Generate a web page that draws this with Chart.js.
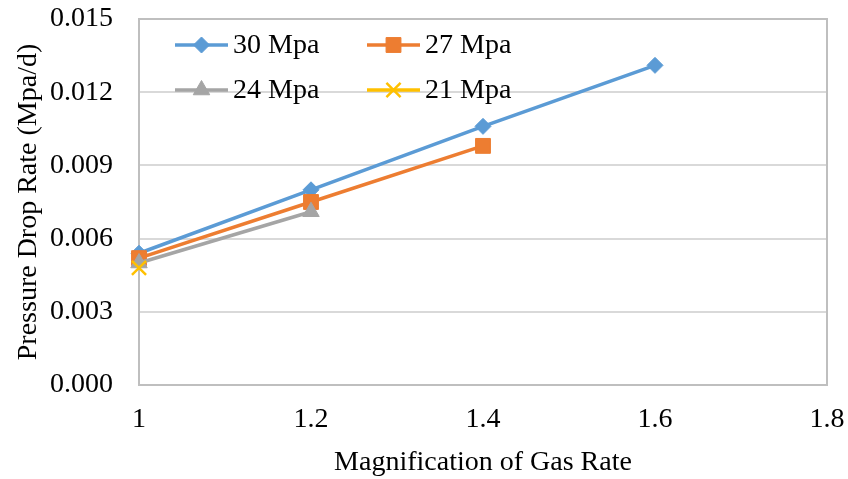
<!DOCTYPE html>
<html>
<head>
<meta charset="utf-8">
<script src="https://cdn.jsdelivr.net/npm/chart.js@4/dist/chart.umd.min.js"></script>
<style>
  html, body { margin: 0; padding: 0; background: #fff; }
  #wrap { width: 848px; height: 479px; }
</style>
</head>
<body>
<div id="wrap"><canvas id="myChart" width="848" height="479"></canvas></div>
<script>
const gasRate = [1, 1.2, 1.4, 1.6];
const p30 = [0.0054, 0.0080, 0.0106, 0.0131];
const p27 = [0.0052, 0.0075, 0.0098];
const p24 = [0.0050, 0.0071];
const p21 = [0.0048];
const seriesNames = ["30 Mpa", "27 Mpa", "24 Mpa", "21 Mpa"];
const xTicks = [1, 1.2, 1.4, 1.6, 1.8];
const yTicks = [0, 0.003, 0.006, 0.009, 0.012, 0.015];

const font = "'Liberation Serif', 'Times New Roman', serif";

function toPoints(vals) {
  return vals.map((v, i) => ({ x: gasRate[i], y: v }));
}

const styles = [
  { color: "#5B9BD5", pointStyle: "rectRot", radius: 8 },
  { color: "#ED7D31", pointStyle: "rect", radius: 10.5 },
  { color: "#A5A5A5", pointStyle: "triangle", radius: 9.5 },
  { color: "#FFC000", pointStyle: "crossRot", radius: 10 },
];

const datasets = [p30, p27, p24, p21].map((vals, i) => ({
  label: seriesNames[i],
  data: toPoints(vals),
  order: 3 - i,
  clip: false,
  borderColor: styles[i].color,
  backgroundColor: styles[i].color,
  pointBackgroundColor: styles[i].color,
  pointBorderColor: styles[i].color,
  pointStyle: styles[i].pointStyle,
  pointRadius: styles[i].radius,
  pointBorderWidth: i == 3 ? 2.5 : 1,
  borderWidth: 3.5,
  tension: 0,
}));

// box round the plot area
const frame = {
  id: "frame",
  beforeDatasetsDraw(chart) {
    const { ctx, chartArea: a } = chart;
    ctx.save();
    ctx.strokeStyle = "#BFBFBF";
    ctx.lineWidth = 2;
    ctx.strokeRect(a.left, a.top, a.right - a.left, a.bottom - a.top);
    ctx.restore();
  },
};

// 2x2 legend inside the plot
const legendBox = {
  id: "legendBox",
  afterDatasetsDraw(chart) {
    const { ctx, chartArea: a } = chart;
    ctx.save();
    ctx.font = "28px " + font;
    ctx.textBaseline = "middle";
    chart.data.datasets.forEach((ds, i) => {
      const col = i % 2, row = Math.floor(i / 2);
      const x0 = a.left + 36 + col * 192;
      const y0 = a.top + 26 + row * 45;
      ctx.strokeStyle = ds.borderColor;
      ctx.lineWidth = 3.5;
      ctx.beginPath();
      ctx.moveTo(x0, y0);
      ctx.lineTo(x0 + 53, y0);
      ctx.stroke();
      ctx.fillStyle = ds.borderColor;
      ctx.lineWidth = ds.pointBorderWidth;
      Chart.helpers.drawPoint(ctx, { pointStyle: ds.pointStyle, radius: ds.pointRadius, borderWidth: ds.pointBorderWidth }, x0 + 26.5, y0);
      ctx.fillStyle = "#000";
      ctx.fillText(ds.label, x0 + 58, y0 + 1);
    });
    ctx.restore();
  },
};

new Chart(document.getElementById("myChart"), {
  type: "line",
  data: { datasets },
  options: {
    responsive: false,
    animation: false,
    layout: { padding: { top: 19, right: 21, left: 0, bottom: 0 } },
    plugins: { legend: { display: false }, tooltip: { enabled: false } },
    scales: {
      x: {
        type: "linear",
        min: 1,
        max: 1.8,
        afterBuildTicks(axis) { axis.ticks = xTicks.map(v => ({ value: v })); },
        afterFit(axis) { axis.height = 94; axis.paddingLeft = 0; axis.paddingRight = 0; },
        ticks: {
          color: "#000",
          font: { family: font, size: 28 },
          padding: 10,
          maxRotation: 0,
          callback: v => String(v),
        },
        grid: { display: false },
        border: { display: false },
        title: {
          display: true,
          text: "Magnification of Gas Rate",
          color: "#000",
          font: { family: font, size: 28 },
          padding: { top: 0, bottom: 0 },
        },
      },
      y: {
        min: 0,
        max: 0.015,
        afterBuildTicks(axis) { axis.ticks = yTicks.map(v => ({ value: v })); },
        afterFit(axis) { axis.width = 139; axis.paddingTop = 0; axis.paddingBottom = 0; },
        ticks: {
          color: "#000",
          font: { family: font, size: 28 },
          padding: 26,
          callback: v => v.toFixed(3),
        },
        grid: { color: "#D9D9D9", lineWidth: 2, drawTicks: false },
        border: { display: false },
        title: {
          display: true,
          text: "Pressure Drop Rate (Mpa/d)",
          color: "#000",
          font: { family: font, size: 28 },
          padding: { top: 12, bottom: 0 },
        },
      },
    },
  },
  plugins: [frame, legendBox],
});
</script>
</body>
</html>
